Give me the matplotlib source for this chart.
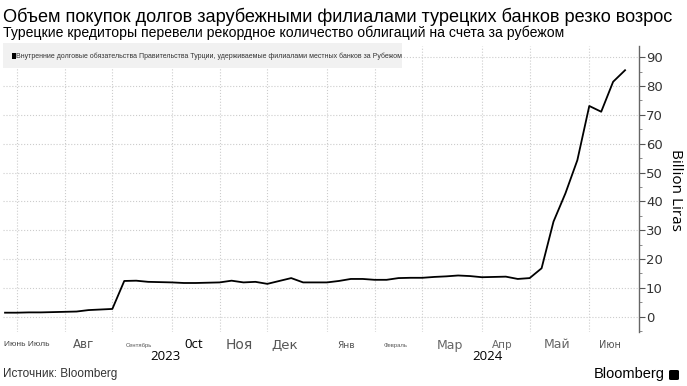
#!/usr/bin/env python3

# Import special modules ...
import matplotlib
matplotlib.use("Agg")
import matplotlib.pyplot
import matplotlib.patches
import matplotlib.ticker

# Weekly values (billion liras), June 2023 -> June 2024 ...
values = [
    1.4, 1.4, 1.5, 1.5, 1.6, 1.7, 1.8, 2.3, 2.5, 2.7,
    12.4, 12.5, 12.1, 12.0, 11.9, 11.7, 11.7, 11.8, 11.9, 12.5,
    11.9, 12.1, 11.4, 12.4, 13.4, 11.9, 11.9, 11.9, 12.4, 13.1,
    13.1, 12.8, 12.8, 13.4, 13.5, 13.5, 13.8, 14.0, 14.3, 14.1,
    13.7, 13.8, 13.9, 13.1, 13.4, 16.8, 33.0, 42.8, 54.3, 73.1,
    71.1, 81.5, 85.5,
]
weeks = list(range(len(values)))

# Week index at which each month starts (vertical grid) ...
month_starts = [1, 5, 9, 14, 18, 22, 27, 31, 35, 40, 44, 49]

# Month labels: (text, x pixel centre, font size, colour, family) ...
month_labels = [
    ("Июнь Июль", 27, 6.0, "#444444", "Liberation Sans"),
    ("Авг", 84, 8.5, "#555555", "DejaVu Sans"),
    ("Сентябрь", 139, 4.2, "#555555", "Liberation Sans"),
    ("0ct", 194, 9.5, "#000000", "Open Sans"),
    ("Ноя", 239, 10.0, "#555555", "DejaVu Sans"),
    ("Дек", 285, 9.5, "#555555", "DejaVu Sans"),
    ("Янв", 346, 6.5, "#555555", "DejaVu Sans"),
    ("Февраль", 396, 4.2, "#555555", "Liberation Sans"),
    ("Мар", 450, 9.0, "#666666", "DejaVu Sans"),
    ("Апр", 502, 7.5, "#666666", "DejaVu Sans"),
    ("Май", 557, 9.0, "#666666", "DejaVu Sans"),
    ("Июн", 610, 7.0, "#555555", "DejaVu Sans"),
]
year_labels = [("2023", 165), ("2024", 487)]

W, H = 687, 386

def fx(px):
    return px / W

def fy(py):
    return 1.0 - py / H

# Create figure ...
fg = matplotlib.pyplot.figure(figsize = (W / 100, H / 100), dpi = 100)
ax = fg.add_axes([fx(3), fy(332), (639 - 3) / W, (332 - 46) / H])

# Plot line ...
ax.plot(weeks, values, color = "black", linewidth = 1.3)

# Configure axis ...
ax.set_xlim(-0.17, 53.17)
ax.set_ylim(-5.3, 93.9)
ax.set_xticks(month_starts)
ax.tick_params(axis = "x", length = 0, labelbottom = False)
ax.yaxis.tick_right()
ax.set_yticks(range(0, 91, 10))
ax.yaxis.set_minor_locator(matplotlib.ticker.MultipleLocator(5))
ax.tick_params(axis = "y", which = "major", length = 4, width = 0.8, color = "#555555", labelsize = 9.5, labelcolor = "#333333", pad = 1)
ax.tick_params(axis = "y", which = "minor", length = 2, width = 0.6, color = "#777777")
ax.grid(True, which = "major", color = "#cccccc", linestyle = ":", linewidth = 0.8)
for side in ["left", "top", "bottom"]:
    ax.spines[side].set_visible(False)
ax.spines["right"].set_color("#666666")
ax.spines["right"].set_linewidth(1.0)

# Legend box ...
fg.patches.append(matplotlib.patches.Rectangle((fx(3), fy(68)), (402 - 3) / W, (68 - 43) / H, transform = fg.transFigure, facecolor = "#f1f1f1", edgecolor = "none", zorder = 3))
fg.patches.append(matplotlib.patches.Rectangle((fx(12), fy(59)), 4 / W, 6 / H, transform = fg.transFigure, facecolor = "black", edgecolor = "none", zorder = 4))
fg.text(fx(16), fy(56), "Внутренние долговые обязательства Правительства Турции, удерживаемые филиалами местных банков за Рубежом", family = ["Liberation Sans", "DejaVu Sans"], fontsize = 5.0, color = "#333333", va = "center", ha = "left", zorder = 5)

# Titles ...
fg.text(fx(3), fy(17), "Объем покупок долгов зарубежными филиалами турецких банков резко возрос", family = ["Liberation Sans", "DejaVu Sans"], fontsize = 13.1, color = "black", va = "center", ha = "left")
fg.text(fx(3), fy(33), "Турецкие кредиторы перевели рекордное количество облигаций на счета за рубежом", family = ["Liberation Sans", "DejaVu Sans"], fontsize = 10.05, color = "black", va = "center", ha = "left")

# Month and year labels ...
for text, px, size, colour, family in month_labels:
    fg.text(fx(px), fy(345), text, family = [family, "DejaVu Sans"], fontsize = size, color = colour, va = "center", ha = "center")
for text, px in year_labels:
    fg.text(fx(px), fy(357), text, family = ["Open Sans", "DejaVu Sans"], fontsize = 9.5, color = "black", va = "center", ha = "center")

# Right axis label ...
fg.text(fx(676), fy(190), "Billion Liras", family = ["Open Sans", "DejaVu Sans"], fontsize = 11, color = "black", rotation = -90, va = "center", ha = "center")

# Footer ...
fg.text(fx(3), fy(374), "Источник: Bloomberg", family = ["Liberation Sans", "DejaVu Sans"], fontsize = 8.5, color = "#333333", va = "center", ha = "left")
fg.text(fx(665), fy(374), "Bloomberg", family = ["Liberation Sans", "DejaVu Sans"], fontsize = 10.5, color = "black", va = "center", ha = "right")
fg.patches.append(matplotlib.patches.FancyBboxPatch((fx(669), fy(380)), 10 / W, 10 / H, boxstyle = "round,pad=0,rounding_size=0.003", transform = fg.transFigure, facecolor = "black", edgecolor = "none"))

# Save figure ...
fg.savefig("out.png", dpi = 100)
matplotlib.pyplot.close(fg)
